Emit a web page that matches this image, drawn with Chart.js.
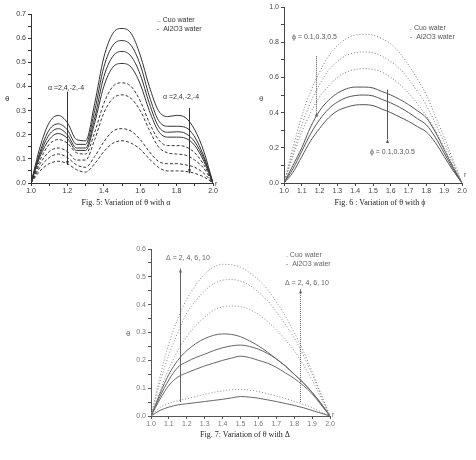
<!DOCTYPE html>
<html>
<head>
<meta charset="utf-8">
<script src="https://cdn.jsdelivr.net/npm/chart.js@4.4.1/dist/chart.umd.min.js"></script>
<style>
  body { margin: 0; background: #fff; width: 476px; height: 460px; position: relative; overflow: hidden; }
  canvas { position: absolute; }
  .cap { position: absolute; font-family: 'Liberation Serif', serif; font-size: 8px; color: #222; white-space: nowrap; transform: translateX(-50%); }
</style>
</head>
<body>
<canvas id="fig5" style="left:0px;top:0px;width:230px;height:200px"></canvas>
<canvas id="fig6" style="left:240px;top:0px;width:236px;height:200px"></canvas>
<canvas id="fig7" style="left:115px;top:235px;width:230px;height:200px"></canvas>
<div class="cap" style="left:126px;top:198px">Fig. 5: Variation of θ with α</div>
<div class="cap" style="left:380px;top:198px">Fig. 6 : Variation of θ with ϕ</div>
<div class="cap" style="left:245px;top:430px">Fig. 7: Variation of θ with Δ</div>
<script>
// radial coordinate r, shared by all three figures
const rVals = [1.0, 1.05, 1.1, 1.15, 1.2, 1.25, 1.3, 1.35, 1.4, 1.45, 1.5, 1.55, 1.6, 1.65, 1.7, 1.75, 1.8, 1.85, 1.9, 1.95, 2.0];

// Fig 5: theta vs r for alpha = 2,4,-2,-4
const alphaAl1 = [0, 0.15, 0.25, 0.28, 0.25, 0.18, 0.175, 0.33, 0.52, 0.62, 0.64, 0.62, 0.53, 0.4, 0.3, 0.275, 0.28, 0.27, 0.22, 0.13, 0];
const alphaAl2 = [0, 0.13, 0.22, 0.245, 0.22, 0.16, 0.16, 0.3, 0.48, 0.57, 0.59, 0.57, 0.49, 0.36, 0.26, 0.235, 0.235, 0.23, 0.19, 0.11, 0];
const alphaAl3 = [0, 0.12, 0.2, 0.225, 0.2, 0.145, 0.145, 0.27, 0.44, 0.525, 0.545, 0.525, 0.45, 0.33, 0.235, 0.21, 0.212, 0.205, 0.17, 0.1, 0];
const alphaAl4 = [0, 0.11, 0.18, 0.205, 0.185, 0.135, 0.135, 0.25, 0.4, 0.48, 0.495, 0.48, 0.41, 0.3, 0.215, 0.19, 0.19, 0.185, 0.155, 0.09, 0];
const alphaCu1 = [0, 0.095, 0.16, 0.18, 0.165, 0.125, 0.12, 0.21, 0.33, 0.4, 0.415, 0.4, 0.34, 0.25, 0.18, 0.155, 0.155, 0.15, 0.125, 0.075, 0];
const alphaCu2 = [0, 0.08, 0.13, 0.145, 0.13, 0.095, 0.095, 0.18, 0.29, 0.35, 0.365, 0.35, 0.3, 0.22, 0.15, 0.125, 0.12, 0.115, 0.095, 0.06, 0];
const alphaCu3 = [0, 0.065, 0.105, 0.12, 0.105, 0.075, 0.065, 0.11, 0.17, 0.215, 0.225, 0.215, 0.18, 0.13, 0.09, 0.08, 0.08, 0.075, 0.065, 0.04, 0];
const alphaCu4 = [0, 0.05, 0.08, 0.09, 0.08, 0.055, 0.045, 0.08, 0.13, 0.165, 0.175, 0.165, 0.14, 0.1, 0.065, 0.05, 0.05, 0.048, 0.04, 0.025, 0];

// Fig 6: theta vs r for phi = 0.1,0.3,0.5
const phiCu1 = [0, 0.2, 0.38, 0.52, 0.63, 0.72, 0.78, 0.82, 0.84, 0.845, 0.84, 0.82, 0.79, 0.74, 0.67, 0.59, 0.5, 0.38, 0.26, 0.13, 0];
const phiCu2 = [0, 0.17, 0.33, 0.46, 0.56, 0.64, 0.69, 0.725, 0.74, 0.745, 0.74, 0.72, 0.69, 0.65, 0.59, 0.52, 0.44, 0.34, 0.23, 0.115, 0];
const phiCu3 = [0, 0.15, 0.29, 0.4, 0.49, 0.55, 0.6, 0.63, 0.645, 0.65, 0.645, 0.63, 0.6, 0.56, 0.51, 0.45, 0.38, 0.3, 0.2, 0.1, 0];
const phiAl1 = [0, 0.1, 0.2, 0.32, 0.41, 0.47, 0.51, 0.535, 0.545, 0.545, 0.54, 0.52, 0.5, 0.475, 0.445, 0.41, 0.37, 0.29, 0.19, 0.09, 0];
const phiAl2 = [0, 0.08, 0.18, 0.28, 0.36, 0.42, 0.46, 0.485, 0.497, 0.5, 0.495, 0.475, 0.455, 0.43, 0.4, 0.365, 0.33, 0.26, 0.17, 0.08, 0];
const phiAl3 = [0, 0.06, 0.15, 0.24, 0.31, 0.37, 0.41, 0.43, 0.443, 0.445, 0.44, 0.42, 0.4, 0.375, 0.35, 0.32, 0.29, 0.23, 0.15, 0.07, 0];

// Fig 7: theta vs r for Delta = 2,4,6,10
const deltaCu1 = [0, 0.14, 0.26, 0.35, 0.42, 0.47, 0.51, 0.535, 0.545, 0.543, 0.535, 0.515, 0.49, 0.455, 0.41, 0.36, 0.3, 0.235, 0.16, 0.08, 0];
const deltaCu2 = [0, 0.12, 0.22, 0.3, 0.37, 0.415, 0.45, 0.475, 0.488, 0.49, 0.485, 0.47, 0.445, 0.415, 0.375, 0.33, 0.28, 0.22, 0.15, 0.075, 0];
const deltaCu3 = [0, 0.09, 0.17, 0.235, 0.285, 0.325, 0.355, 0.38, 0.392, 0.395, 0.393, 0.383, 0.365, 0.34, 0.31, 0.275, 0.235, 0.185, 0.13, 0.065, 0];
const deltaCu4 = [0, 0.03, 0.045, 0.055, 0.062, 0.07, 0.078, 0.085, 0.09, 0.094, 0.095, 0.093, 0.088, 0.08, 0.072, 0.063, 0.053, 0.042, 0.03, 0.015, 0];
const deltaAl1 = [0, 0.08, 0.15, 0.2, 0.235, 0.26, 0.278, 0.29, 0.295, 0.293, 0.285, 0.27, 0.252, 0.23, 0.205, 0.18, 0.15, 0.12, 0.085, 0.045, 0];
const deltaAl2 = [0, 0.07, 0.13, 0.175, 0.195, 0.21, 0.222, 0.235, 0.245, 0.252, 0.255, 0.25, 0.24, 0.225, 0.205, 0.18, 0.15, 0.12, 0.085, 0.045, 0];
const deltaAl3 = [0, 0.06, 0.11, 0.14, 0.155, 0.168, 0.18, 0.19, 0.2, 0.208, 0.215, 0.21, 0.2, 0.19, 0.175, 0.155, 0.135, 0.11, 0.08, 0.04, 0];
const deltaAl4 = [0, 0.02, 0.032, 0.04, 0.044, 0.048, 0.052, 0.056, 0.06, 0.065, 0.07, 0.068, 0.064, 0.058, 0.052, 0.045, 0.038, 0.03, 0.02, 0.01, 0];

const FONT = 'Liberation Sans, Arial, sans-serif';

function line(vals, color, dash) {
    return {
        data: vals.map((v, i) => ({ x: rVals[i], y: v })),
        borderColor: color,
        borderWidth: 1,
        borderDash: dash,
        pointRadius: 0,
        fill: false,
        cubicInterpolationMode: 'monotone'
    };
}

// draws the hand-placed labels, arrows and axis titles of each figure
const annot = {
    id: 'annot',
    afterDraw(chart, args, o) {
        const ctx = chart.ctx;
        const xs = chart.scales.x, ys = chart.scales.y;
        ctx.save();
        ctx.fillStyle = o.color;
        ctx.strokeStyle = o.color;
        ctx.textBaseline = 'middle';
        ctx.font = '7px ' + FONT;
        (o.texts || []).forEach(t => {
            ctx.fillText(t.text, xs.getPixelForValue(t.x), ys.getPixelForValue(t.y));
        });
        (o.px || []).forEach(t => {
            ctx.font = (t.size || 7) + 'px ' + FONT;
            ctx.fillText(t.text, t.x, t.y);
        });
        (o.arrows || []).forEach(a => {
            const x = Math.round(xs.getPixelForValue(a.x)) + 0.5;
            const y0 = ys.getPixelForValue(a.y0), y1 = ys.getPixelForValue(a.y1);
            ctx.lineWidth = 1;
            ctx.setLineDash(a.dash || []);
            ctx.beginPath();
            ctx.moveTo(x, y0);
            ctx.lineTo(x, y1);
            ctx.stroke();
            ctx.setLineDash([]);
            // head sits at y1; pointUp flips which way the tip faces
            const dir = a.pointUp ? 1 : -1;
            ctx.beginPath();
            ctx.moveTo(x, y1);
            ctx.lineTo(x - 1.5, y1 + dir * 4);
            ctx.lineTo(x + 1.5, y1 + dir * 4);
            ctx.closePath();
            ctx.fill();
        });
        ctx.restore();
    }
};

function makeChart(id, cfg) {
    return new Chart(document.getElementById(id), {
        type: 'line',
        plugins: [annot],
        data: { datasets: cfg.datasets },
        options: {
            responsive: false,
            animation: false,
            layout: { padding: cfg.padding },
            plugins: {
                legend: { display: false },
                tooltip: { enabled: false },
                annot: cfg.annot
            },
            scales: {
                x: {
                    type: 'linear',
                    min: 1, max: 2,
                    afterFit: s => { s.height = cfg.xHeight; },
                    ticks: {
                        stepSize: 0.1,
                        autoSkip: false,
                        maxRotation: 0,
                        padding: 1,
                        color: cfg.tickColor,
                        font: { size: 7, family: FONT },
                        callback: v => cfg.xLabel(v) ? v.toFixed(1) : ''
                    },
                    grid: { drawOnChartArea: false, tickLength: 3, color: cfg.axisColor },
                    border: { color: cfg.axisColor }
                },
                y: {
                    min: 0, max: cfg.yMax,
                    afterFit: s => { s.width = cfg.yWidth; },
                    ticks: {
                        stepSize: cfg.yStep,
                        autoSkip: false,
                        padding: 2,
                        color: cfg.tickColor,
                        font: { size: 7, family: FONT },
                        callback: v => cfg.yLabel(v) ? v.toFixed(1) : ''
                    },
                    grid: { drawOnChartArea: false, tickLength: 3, color: cfg.axisColor },
                    border: { color: cfg.axisColor }
                }
            }
        }
    });
}

const even = v => Math.round(v * 10) % 2 === 0;
const tenth = v => Math.round(v * 20) % 2 === 0;
const all = v => true;

// Fig 5
makeChart('fig5', {
    datasets: [
        line(alphaAl1, '#333', []), line(alphaAl2, '#333', []), line(alphaAl3, '#333', []), line(alphaAl4, '#333', []),
        line(alphaCu1, '#333', [3, 2]), line(alphaCu2, '#333', [3, 2]), line(alphaCu3, '#333', [3, 2]), line(alphaCu4, '#333', [3, 2])
    ],
    padding: { left: 0, top: 14, right: 17, bottom: 0 },
    yWidth: 31, xHeight: 17, yMax: 0.7, yStep: 0.05,
    xLabel: even, yLabel: tenth,
    tickColor: '#333', axisColor: '#333',
    annot: {
        color: '#333',
        texts: [
            { x: 1.093, y: 0.394, text: 'α =2,4,-2,-4' },
            { x: 1.725, y: 0.357, text: 'α =2,4,-2,-4' },
            { x: 1.692, y: 0.676, text: '.. Cuo water' },
            { x: 1.692, y: 0.639, text: '-  Al2O3 water' }
        ],
        arrows: [
            { x: 1.2, y0: 0.378, y1: 0.075 },
            { x: 1.867, y0: 0.31, y1: 0.04 }
        ],
        px: [
            { x: 5, y: 99, text: 'θ', size: 8 },
            { x: 215, y: 184, text: 'r', size: 7 }
        ]
    }
});

// Fig 6
makeChart('fig6', {
    datasets: [
        line(phiCu1, '#777', [1, 2]), line(phiCu2, '#777', [1, 2]), line(phiCu3, '#777', [1, 2]),
        line(phiAl1, '#555', []), line(phiAl2, '#555', []), line(phiAl3, '#555', [])
    ],
    padding: { left: 0, top: 7, right: 14, bottom: 0 },
    yWidth: 44, xHeight: 17, yMax: 1.0, yStep: 0.1,
    xLabel: all, yLabel: even,
    tickColor: '#444', axisColor: '#444',
    annot: {
        color: '#555',
        texts: [
            { x: 1.045, y: 0.83, text: 'ϕ = 0.1,0.3,0.5' },
            { x: 1.483, y: 0.176, text: 'ϕ = 0.1,0.3,0.5' },
            { x: 1.708, y: 0.881, text: '. Cuo water' },
            { x: 1.708, y: 0.83, text: '-  Al2O3 water' }
        ],
        arrows: [
            { x: 1.18, y0: 0.72, y1: 0.4, dash: [1, 1], pointUp: true },
            { x: 1.58, y0: 0.53, y1: 0.25, pointUp: true }
        ],
        px: [
            { x: 19, y: 99, text: 'θ', size: 8 },
            { x: 224, y: 175, text: 'r', size: 7 }
        ]
    }
});

// Fig 7
makeChart('fig7', {
    datasets: [
        line(deltaCu1, '#888', [1, 2]), line(deltaCu2, '#888', [1, 2]), line(deltaCu3, '#888', [1, 2]), line(deltaCu4, '#888', [1, 2]),
        line(deltaAl1, '#666', []), line(deltaAl2, '#666', []), line(deltaAl3, '#666', []), line(deltaAl4, '#666', [])
    ],
    padding: { left: 0, top: 14, right: 15, bottom: 0 },
    yWidth: 36, xHeight: 19, yMax: 0.6, yStep: 0.05,
    xLabel: all, yLabel: tenth,
    tickColor: '#777', axisColor: '#555',
    annot: {
        color: '#666',
        texts: [
            { x: 1.084, y: 0.569, text: 'Δ = 2, 4, 6, 10' },
            { x: 1.749, y: 0.479, text: 'Δ = 2, 4, 6, 10' },
            { x: 1.754, y: 0.58, text: '. Cuo water' },
            { x: 1.754, y: 0.547, text: '-  Al2O3 water' }
        ],
        arrows: [
            { x: 1.16, y0: 0.05, y1: 0.53, pointUp: true },
            { x: 1.834, y0: 0.05, y1: 0.455, dash: [1, 1], pointUp: true }
        ],
        px: [
            { x: 11, y: 99, text: 'θ', size: 8 },
            { x: 217, y: 180, text: 'r', size: 7 }
        ]
    }
});
</script>
</body>
</html>
